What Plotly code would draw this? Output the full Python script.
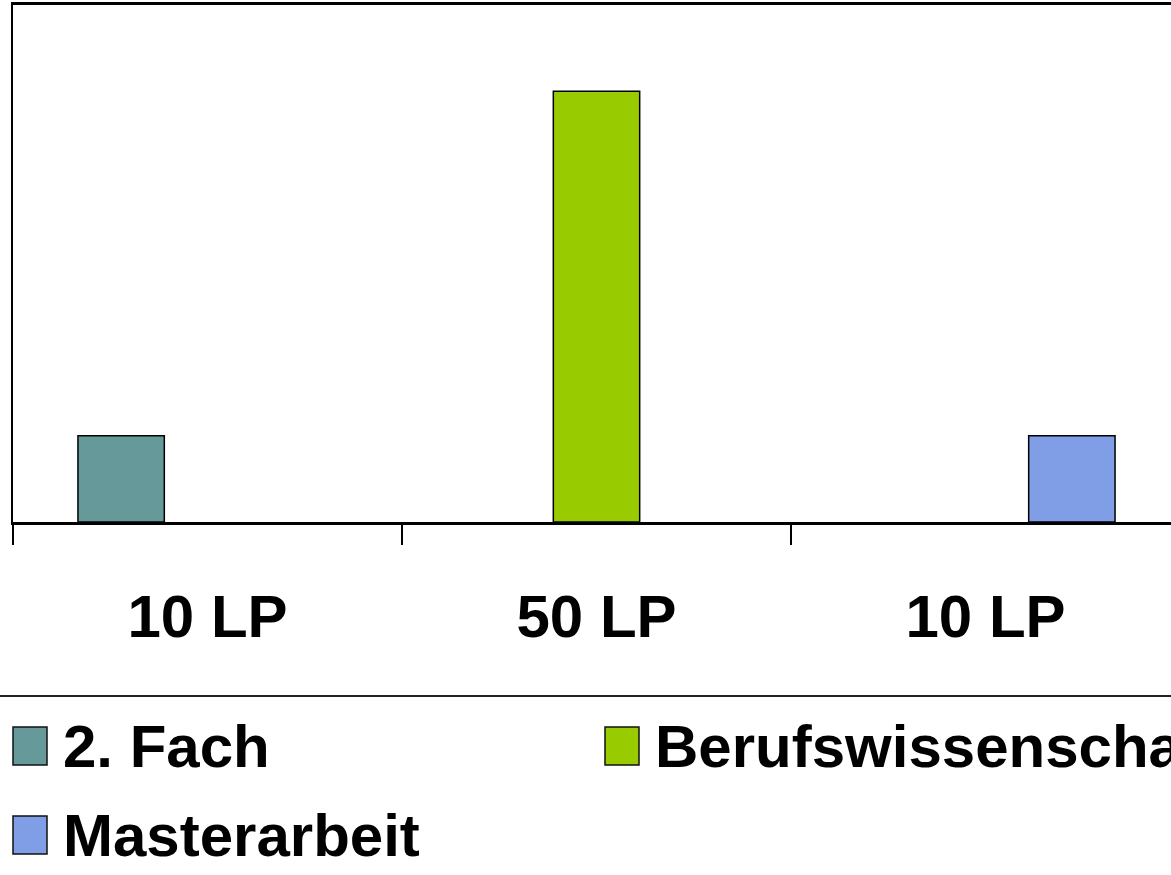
import plotly.graph_objects as go

category_ids = ["c1", "c2", "c3"]
category_labels = ["10 LP", "50 LP", "10 LP"]
series_names = ["2. Fach", "Berufswissenschaft", "Masterarbeit"]
fach_values = [10, None, None]
beruf_values = [None, 50, None]
master_values = [None, None, 10]
colors = ["#669999", "#99cc00", "#7f9ee6"]

W, H = 1171, 875
L, T, B = 13, 5, 522
FONT = "Liberation Sans Narrow, Arial Narrow, Liberation Sans, Arial, sans-serif"

fig = go.Figure()
for name, vals, col in zip(series_names, [fach_values, beruf_values, master_values], colors):
    fig.add_trace(go.Bar(x=category_ids, y=vals, name=name, marker_color=col,
                         marker_line=dict(color="black", width=1.5)))

pw = W - L
ph = B - T
def px_x(px):
    return (px - L) / pw
def px_y(py):
    return (B - py) / ph

shapes = [
    dict(type="line", xref="paper", yref="paper", x0=px_x(0), x1=px_x(W), y0=px_y(696), y1=px_y(696),
         line=dict(color="#222222", width=2)),
]
annotations = []
legend_items = [
    (series_names[0], colors[0], 13, 746),
    (series_names[1], colors[1], 605, 746),
    (series_names[2], colors[2], 13, 835),
]
for name, col, x, yc in legend_items:
    shapes.append(dict(type="rect", xref="paper", yref="paper",
                       x0=px_x(x), x1=px_x(x + 34), y0=px_y(yc - 19), y1=px_y(yc + 19),
                       fillcolor=col, line=dict(color="#111111", width=1.5)))
    annotations.append(dict(xref="paper", yref="paper", x=px_x(x + 48), y=px_y(yc),
                            xanchor="left", yanchor="middle", showarrow=False, text="<b>%s</b>" % name,
                            font=dict(family=FONT, size=60, color="black")))

cat_w = 389.0
fig.update_layout(
    width=W, height=H,
    margin=dict(l=L, r=0, t=T, b=H - B, pad=0),
    paper_bgcolor="white", plot_bgcolor="white",
    showlegend=False,
    barmode="group", bargap=0.334, bargroupgap=0,
    xaxis=dict(type="category", range=[-0.5, -0.5 + pw / cat_w], tickmode="array", tickvals=category_ids,
               ticktext=["<b>%s</b>" % c for c in category_labels],
               tickson="boundaries", ticks="outside", ticklen=20, tickwidth=1.5, tickcolor="black",
               showline=True, linecolor="black", linewidth=3, mirror=True,
               showgrid=False, zeroline=False,
               tickfont=dict(family=FONT, size=60, color="black"), ticklabelstandoff=40),
    yaxis=dict(range=[0, 60], showticklabels=False, ticks="", showgrid=False, zeroline=False,
               showline=True, linecolor="black", linewidth=2, mirror=False),
    shapes=shapes, annotations=annotations,
)

fig.write_html("out.html", config={"displayModeBar": False},
               post_script="document.body.style.margin='0';document.body.style.overflow='hidden';")
